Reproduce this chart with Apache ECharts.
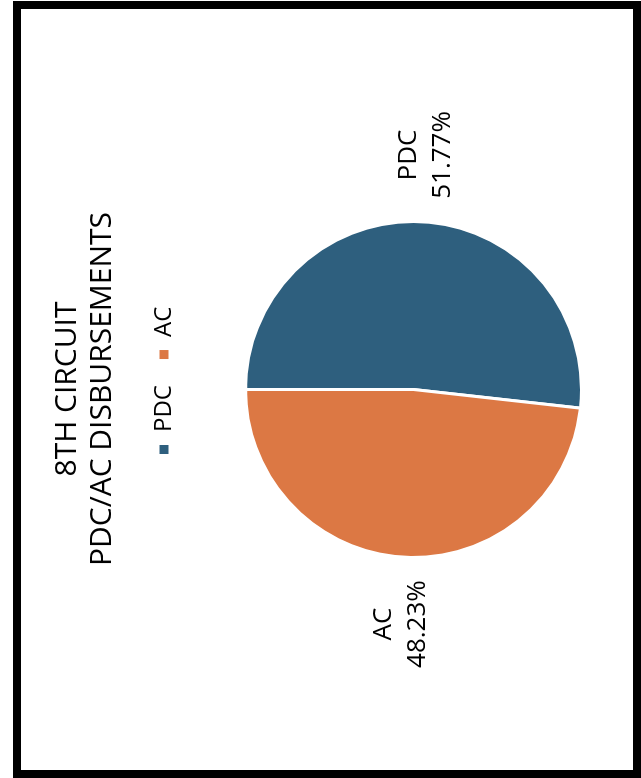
<!DOCTYPE html>
<html>
<head>
<meta charset="utf-8">
<script src="https://cdn.jsdelivr.net/npm/echarts@6/dist/echarts.min.js"></script>
<style>
  html, body { margin: 0; padding: 0; background: #fff; overflow: hidden; width: 641px; height: 778px; }
  #chart { position: absolute; left: 0; top: 0; width: 778px; height: 641px;
           transform-origin: 0 0; transform: translate(0px, 778px) rotate(-90deg); }
  #frame { position: absolute; left: 13px; top: 1px; width: 628px; height: 777px;
           border: 8px solid #000; box-sizing: border-box; pointer-events: none; }
</style>
</head>
<body>
<div id="chart"></div>
<div id="frame"></div>
<script>
// Data
var titleLines = ['8TH CIRCUIT', 'PDC/AC DISBURSEMENTS'];
var categories = ['PDC', 'AC'];
var values = [51.77, 48.23];
var colors = ['#2E5F7E', '#DC7844'];

var FONT = '"Open Sans", sans-serif';

var chart = echarts.init(document.getElementById('chart'), null, { renderer: 'canvas' });

var pieData = categories.map(function (c, i) {
  return { name: c, value: values[i], itemStyle: { color: colors[i] } };
});

chart.setOption({
  animation: false,
  backgroundColor: '#fff',
  title: {
    text: titleLines.join('\n'),
    left: 'center',
    top: 50,
    padding: 0,
    textStyle: { fontFamily: FONT, fontSize: 30, fontWeight: 'normal', color: '#000', lineHeight: 35 }
  },
  legend: {
    data: categories,
    left: 322,
    top: 151,
    padding: 0,
    itemWidth: 11,
    itemHeight: 11,
    itemGap: 24,
    icon: 'rect',
    selectedMode: false,
    textStyle: { fontFamily: FONT, fontSize: 24, color: '#000', lineHeight: 26, padding: [0, 0, 0, 7] }
  },
  series: [{
    type: 'pie',
    center: [388.5, 413.5],
    radius: 168,
    startAngle: 90,
    clockwise: true,
    avoidLabelOverlap: false,
    data: pieData,
    itemStyle: { borderColor: '#fff', borderWidth: 3 },
    emphasis: { disabled: true },
    label: {
      show: true,
      position: 'outside',
      formatter: '{c|{b}}\n{c|{d}%}',
      rich: {
        c: { align: 'center', fontFamily: FONT, fontSize: 26, color: '#000', lineHeight: 34 }
      }
    },
    labelLine: { show: false, length: 56, length2: -38 }
  }]
});
</script>
</body>
</html>
